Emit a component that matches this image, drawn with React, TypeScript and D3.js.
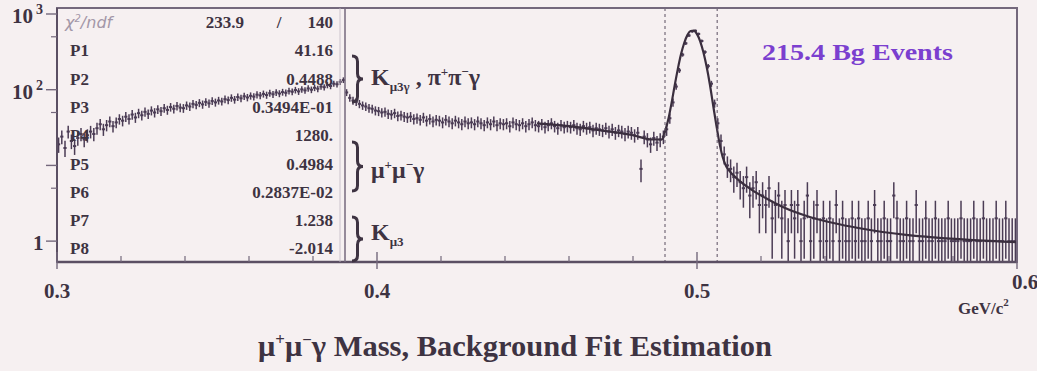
import React from 'react';
import * as d3 from 'd3';

const W = 1037;
const H = 371;

// Histogram: bins of 0.001 GeV starting at 0.300 (one row = 0.01 GeV)
const binStart = 0.3;
const binWidth = 0.001;
const counts = [
  19, 24, 17, 28, 21, 18, 23, 26, 22, 25,
  28, 26, 31, 35, 30, 34, 38, 33, 37, 41,
  39, 44, 41, 47, 43, 49, 46, 51, 48, 53,
  50, 55, 52, 57, 54, 59, 56, 61, 58, 57,
  62, 60, 65, 63, 67, 64, 69, 66, 71, 68,
  72, 70, 75, 73, 78, 74, 80, 77, 82, 79,
  83, 81, 86, 84, 88, 85, 90, 87, 92, 89,
  93, 91, 96, 94, 99, 95, 101, 98, 104, 100,
  106, 103, 110, 108, 115, 112, 120, 118, 127, 134,
  92, 78, 72, 69, 65, 62, 60, 57, 56, 53,
  52, 50, 51, 48, 47, 49, 45, 46, 44, 43,
  44, 41, 42, 40, 43, 39, 41, 38, 40, 39,
  37, 40, 38, 36, 39, 37, 35, 38, 36, 37,
  35, 38, 36, 34, 37, 35, 38, 34, 36, 35,
  36, 33, 37, 35, 34, 36, 33, 35, 37, 34,
  33, 35, 32, 34, 36, 33, 31, 34, 32, 33,
  32, 34, 31, 30, 33, 31, 32, 29, 31, 30,
  29, 31, 28, 30, 27, 29, 28, 26, 28, 27,
  25, 27, 9, 24, 22, 19, 23, 20, 22, 24,
  30, 42, 68, 110, 180, 290, 410, 520, 590, 600,
  545, 440, 315, 205, 120, 66, 36, 21, 14, 10,
  9, 7, 8, 6, 5, 7, 4, 5, 6, 3,
  4, 3, 5, 2, 3, 4, 2, 3, 1, 3,
  2, 3, 1, 2, 4, 1, 2, 3, 1, 2,
  1, 2, 1, 3, 1, 2, 1, 1, 2, 1,
  2, 1, 1, 2, 1, 3, 1, 1, 2, 1,
  1, 4, 2, 1, 1, 2, 1, 1, 3, 1,
  1, 2, 1, 1, 2, 1, 1, 1, 2, 1,
  1, 1, 2, 1, 1, 1, 2, 1, 1, 2,
  1, 1, 1, 2, 1, 1, 2, 1, 1, 1,
];

// Fit curve
const fitMass = [0.450, 0.460, 0.470, 0.480, 0.486, 0.489, 0.490, 0.491, 0.492, 0.493, 0.494, 0.495, 0.496, 0.497, 0.498, 0.499, 0.500, 0.501, 0.502, 0.503, 0.504, 0.505, 0.506, 0.507, 0.508, 0.509, 0.510, 0.513, 0.517, 0.522, 0.527, 0.535, 0.543, 0.550, 0.558, 0.566, 0.574, 0.585, 0.600];
const fitValue = [36, 33, 29, 25, 22, 22, 28, 40, 65, 112, 187, 293, 414, 526, 596, 602, 543, 436, 312, 202, 119, 64, 35, 20, 13, 10, 8.6, 6.4, 4.8, 3.6, 2.8, 2.1, 1.72, 1.5, 1.32, 1.2, 1.12, 1.04, 0.97];

// Signal window (dashed lines)
const windowEdges = [0.4900, 0.5063];

// Axes
const xMajorTicks = [0.3, 0.4, 0.5, 0.6];
const xMajorLabels = ['0.3', '0.4', '0.5', '0.6'];
const xMinorTicks = [0.32, 0.34, 0.36, 0.38, 0.42, 0.44, 0.46, 0.48, 0.52, 0.54, 0.56, 0.58];
const yMajorTicks = [1, 10, 100, 1000];
const yTickBase = ['1', '', '10', '10'];
const yTickExp = ['', '', '2', '3'];
const yMinorTicks = [5, 50, 500];

// Stat box
const chi2Text = '233.9';
const ndfText = '140';
const parNames = ['P1', 'P2', 'P3', 'P4', 'P5', 'P6', 'P7', 'P8'];
const parValues = ['41.16', '0.4488', '0.3494E-01', '1280.', '0.4984', '0.2837E-02', '1.238', '-2.014'];

const bgEventsText = '215.4 Bg Events';
const xUnit = 'GeV/c';
const titleText = ' Mass, Background Fit Estimation';

const BG = '#f6f0f1';
const INK = '#3e3342';
const DATA = '#4b3c55';
const FRAME = '#74687c';
const SERIF = '"Liberation Serif", "Times New Roman", serif';

function bracePath(x: number, y0: number, y1: number, w: number) {
  const m = (y0 + y1) / 2;
  const r = w / 2;
  return `M${x},${y0} Q${x + r},${y0} ${x + r},${y0 + r} L${x + r},${m - r} Q${x + r},${m} ${x + w},${m} Q${x + r},${m} ${x + r},${m + r} L${x + r},${y1 - r} Q${x + r},${y1} ${x},${y1}`;
}

export default function App() {
  const left = 57, right = 1017, top = 8, bottom = 262;
  const x = d3.scaleLinear().domain([0.3, 0.6]).range([left, right]);
  const y = d3.scaleLog().domain([0.53, 1200]).range([bottom, top]);
  const yc = (v: number) => (v <= 0.53 ? bottom : Math.max(top, y(v)));

  const fitPts = fitMass.map((m, i) => [m, fitValue[i]] as [number, number]);
  const fitLine = d3.line<[number, number]>()
    .x(d => x(d[0]))
    .y(d => y(d[1]))
    .curve(d3.curveMonotoneX)(fitPts) || '';

  const bins = counts.map((n, i) => {
    const lo = binStart + i * binWidth;
    return { lo, hi: lo + binWidth, n, e: Math.sqrt(n) };
  });

  const statX0 = 70, statX1 = 333;
  const rowY0 = 22, rowStep = 28.3;
  const fs = 17;

  return (
    <svg width={W} height={H} style={{ position: 'absolute', left: 0, top: 0 }} xmlns="http://www.w3.org/2000/svg">
      <rect x={0} y={0} width={W} height={H} fill={BG} />

      {/* data histogram with error bars */}
      <g stroke={DATA} strokeWidth={1.5} fill="none">
        {bins.filter(b => b.n > 0).map((b, i) => {
          const cx = x((b.lo + b.hi) / 2);
          return (
            <g key={i}>
              <line x1={x(b.lo)} x2={x(b.hi)} y1={y(b.n)} y2={y(b.n)} strokeWidth={2} />
              <line x1={cx} x2={cx} y1={yc(b.n + b.e)} y2={yc(b.n - b.e)} />
            </g>
          );
        })}
      </g>

      {/* fit curve */}
      <path d={fitLine} fill="none" stroke="#3a2e3e" strokeWidth={2.2} />

      {/* signal window */}
      {windowEdges.map((m, i) => (
        <line key={i} x1={x(m)} x2={x(m)} y1={top} y2={bottom} stroke="#5a4e60" strokeWidth={1} strokeDasharray="3,3" />
      ))}

      {/* frame */}
      <rect x={left} y={top} width={right - left} height={bottom - top} fill="none" stroke={FRAME} strokeWidth={2} />
      <line x1={left} x2={right} y1={bottom} y2={bottom} stroke="#5b4f63" strokeWidth={2.4} />
      <line x1={left} x2={left} y1={top} y2={bottom} stroke="#5b4f63" strokeWidth={2} />

      {/* x ticks */}
      {xMinorTicks.map((t, i) => (
        <line key={i} x1={x(t)} x2={x(t)} y1={bottom} y2={bottom - 6} stroke={FRAME} strokeWidth={1.2} />
      ))}
      {xMajorTicks.map((t, i) => (
        <line key={i} x1={x(t)} x2={x(t)} y1={bottom + 7} y2={bottom - 10} stroke={FRAME} strokeWidth={1.4} />
      ))}
      {xMajorTicks.map((t, i) => (
        <text key={i} x={x(t) + (i === 3 ? 8 : 0)} y={i === 3 ? 289 : 298} fontFamily={SERIF} fontWeight="bold" fontSize={21} fill={INK} textAnchor="middle">
          {xMajorLabels[i]}
        </text>
      ))}
      <text x={958} y={314} fontFamily={SERIF} fontWeight="bold" fontSize={17} fill={INK}>
        {xUnit}
        <tspan dy={-8} fontSize={11}>2</tspan>
      </text>

      {/* y ticks */}
      {yMajorTicks.map((t, i) => (
        <line key={i} x1={left - 11} x2={left} y1={y(t)} y2={y(t)} stroke={FRAME} strokeWidth={1.4} />
      ))}
      {yMinorTicks.map((t, i) => (
        <line key={i} x1={left - 6} x2={left} y1={y(t)} y2={y(t)} stroke={FRAME} strokeWidth={1.2} />
      ))}
      {yMajorTicks.map((t, i) => yTickBase[i] ? (
        <text key={i} x={yTickExp[i] ? 12 : 33} y={y(t) + 9} fontFamily={SERIF} fontWeight="bold" fontSize={21} fill={INK}>
          {yTickBase[i]}
          {yTickExp[i] ? <tspan dx={3} dy={-9} fontSize={14}>{yTickExp[i]}</tspan> : null}
        </text>
      ) : null)}

      {/* stat box */}
      <line x1={345} x2={345} y1={top} y2={bottom} stroke={FRAME} strokeWidth={1.5} />
      <line x1={340} x2={340} y1={top} y2={bottom} stroke="#c2b8c5" strokeWidth={0.8} />
      <text x={65} y={rowY0 + 6} fontFamily='"DejaVu Sans", sans-serif' fontStyle="italic" fontSize={16} fill="#a397a8">
        χ<tspan dy={-6} fontSize={10}>2</tspan><tspan dy={6}>/ndf</tspan>
      </text>
      <text x={244} y={rowY0 + 6} fontFamily={SERIF} fontWeight="bold" fontSize={fs} fill={INK} textAnchor="end">{chi2Text}</text>
      <text x={279} y={rowY0 + 6} fontFamily={SERIF} fontWeight="bold" fontSize={fs} fill={INK} textAnchor="middle">/</text>
      <text x={statX1} y={rowY0 + 6} fontFamily={SERIF} fontWeight="bold" fontSize={fs} fill={INK} textAnchor="end">{ndfText}</text>
      {parNames.map((p, i) => (
        <g key={p}>
          <text x={statX0} y={rowY0 + (i + 1) * rowStep + 6} fontFamily={SERIF} fontWeight="bold" fontSize={fs} fill={INK}>{p}</text>
          <text x={statX1} y={rowY0 + (i + 1) * rowStep + 6} fontFamily={SERIF} fontWeight="bold" fontSize={fs} fill={INK} textAnchor="end">{parValues[i]}</text>
        </g>
      ))}

      {/* component braces and labels */}
      <g stroke={INK} strokeWidth={3} fill="none">
        <path d={bracePath(352, 56, 102, 11)} />
        <path d={bracePath(352, 142, 191, 11)} />
        <path d={bracePath(352, 217, 261, 11)} />
      </g>
      <text x={371} y={85} fontFamily={SERIF} fontWeight="bold" fontSize={24} fill={INK}>
        K<tspan dy={6} fontSize={13}>μ3γ</tspan><tspan dy={-6}> , π</tspan><tspan dy={-9} fontSize={13}>+</tspan><tspan dy={9}>π</tspan><tspan dy={-9} fontSize={13}>−</tspan><tspan dy={9}>γ</tspan>
      </text>
      <text x={371} y={178} fontFamily={SERIF} fontWeight="bold" fontSize={24} fill={INK}>
        μ<tspan dy={-9} fontSize={13}>+</tspan><tspan dy={9}>μ</tspan><tspan dy={-9} fontSize={13}>−</tspan><tspan dy={9}>γ</tspan>
      </text>
      <text x={371} y={240} fontFamily={SERIF} fontWeight="bold" fontSize={24} fill={INK}>
        K<tspan dy={6} fontSize={13}>μ3</tspan>
      </text>

      <text x={762} y={60} fontFamily={SERIF} fontWeight="bold" fontSize={23} fill="#7b3fcf" textLength={191} lengthAdjust="spacingAndGlyphs">
        {bgEventsText}
      </text>

      {/* title */}
      <text x={258} y={356} fontFamily={SERIF} fontWeight="bold" fontSize={29} fill={INK} textLength={514} lengthAdjust="spacingAndGlyphs">
        μ<tspan dy={-11} fontSize={16}>+</tspan><tspan dy={11}>μ</tspan><tspan dy={-11} fontSize={16}>−</tspan><tspan dy={11}>γ</tspan>{titleText}
      </text>
    </svg>
  );
}
